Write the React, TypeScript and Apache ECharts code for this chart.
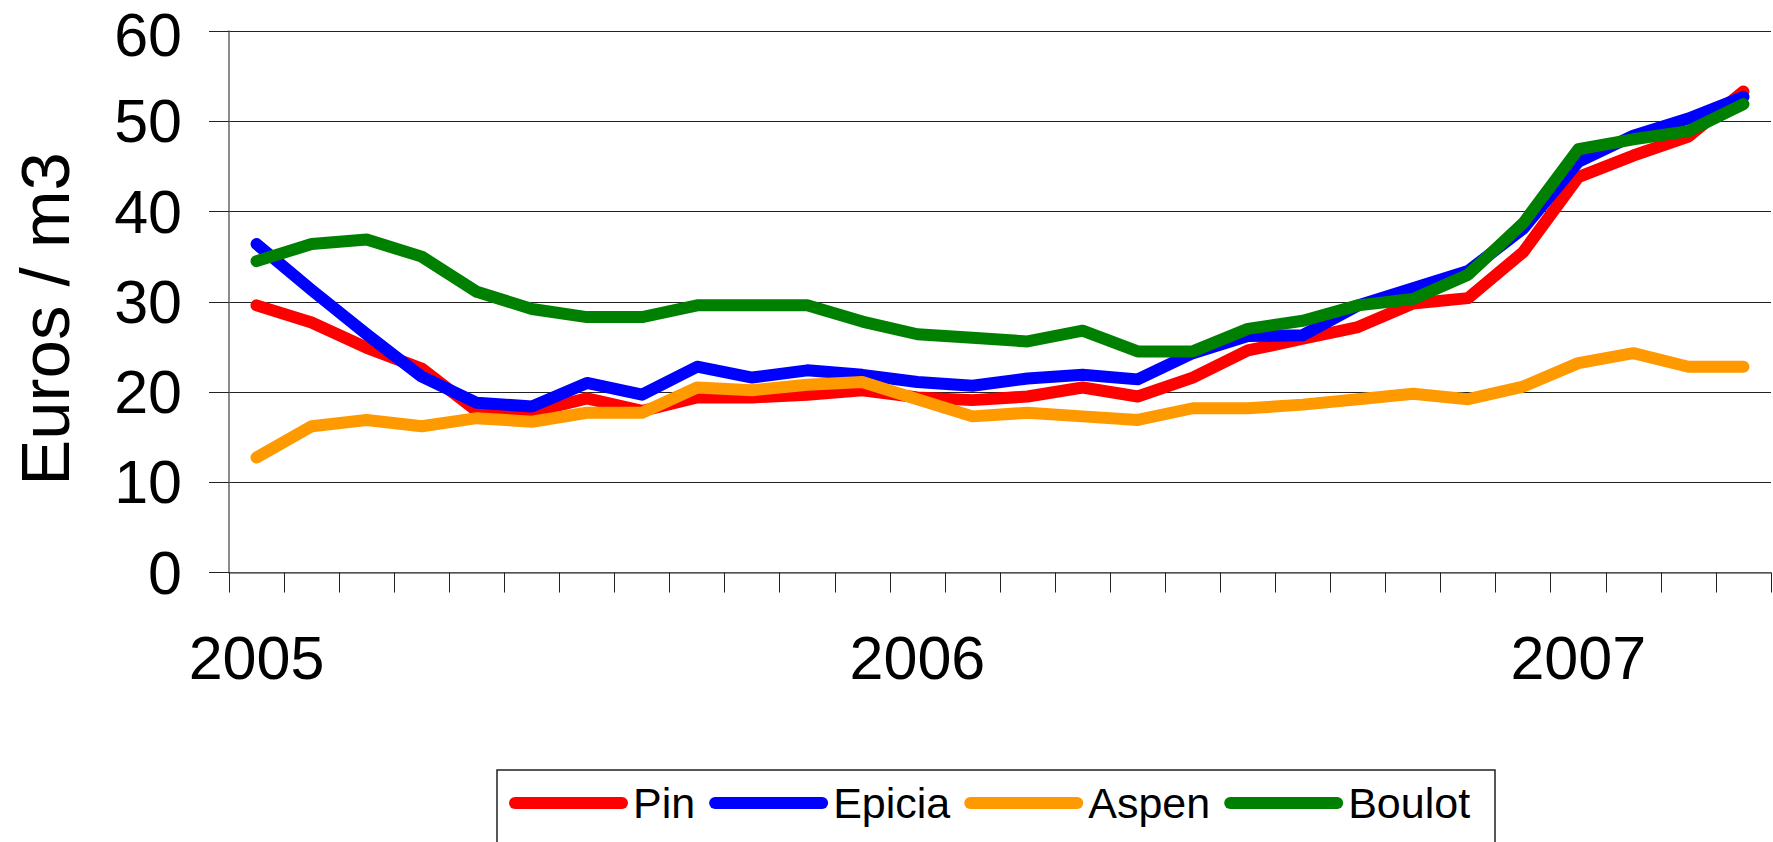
import React, { useEffect, useRef } from 'react';
import * as echarts from 'echarts';

const months = [
  '2005-01', '2005-02', '2005-03', '2005-04', '2005-05', '2005-06', '2005-07', '2005-08', '2005-09', '2005-10', '2005-11', '2005-12',
  '2006-01', '2006-02', '2006-03', '2006-04', '2006-05', '2006-06', '2006-07', '2006-08', '2006-09', '2006-10', '2006-11', '2006-12',
  '2007-01', '2007-02', '2007-03', '2007-04',
];

const yearLabels: Record<string, string> = { '2005-01': '2005', '2006-01': '2006', '2007-01': '2007' };

const pin = [29.6, 27.7, 24.9, 22.6, 17.9, 17.8, 19.3, 17.9, 19.4, 19.4, 19.7, 20.2, 19.4, 19.1, 19.5, 20.5, 19.5, 21.6, 24.6, 25.9, 27.2, 29.8, 30.4, 35.5, 43.8, 46.2, 48.3, 53.3];
const epicia = [36.4, 31.3, 26.4, 21.7, 18.8, 18.4, 21.0, 19.7, 22.8, 21.6, 22.4, 21.9, 21.1, 20.7, 21.5, 21.9, 21.4, 24.3, 26.2, 26.3, 29.6, 31.5, 33.4, 38.1, 45.5, 48.4, 50.3, 52.7];
const aspen = [12.75, 16.2, 16.9, 16.2, 17.1, 16.7, 17.7, 17.7, 20.5, 20.2, 20.8, 21.1, 19.2, 17.3, 17.7, 17.3, 16.9, 18.2, 18.2, 18.6, 19.2, 19.8, 19.2, 20.6, 23.2, 24.3, 22.8, 22.8];
const boulot = [34.5, 36.4, 36.9, 35.0, 31.1, 29.2, 28.3, 28.3, 29.6, 29.6, 29.6, 27.8, 26.4, 26.0, 25.6, 26.8, 24.5, 24.5, 27.0, 27.9, 29.6, 30.3, 33.0, 38.7, 46.9, 48.0, 48.9, 51.9];

const seriesNames = ['Pin', 'Epicia', 'Aspen', 'Boulot'];
const seriesColors = ['#FF0000', '#0000FF', '#FF9900', '#008000'];
const seriesData = [pin, epicia, aspen, boulot];

const yTitle = 'Euros / m3';
const FONT = "'Liberation Sans', Arial, sans-serif";

export default function App() {
  const ref = useRef<HTMLDivElement>(null);

  useEffect(() => {
    if (!ref.current) return;
    const chart = echarts.init(ref.current, undefined, { renderer: 'svg' });
    chart.setOption({
      animation: false,
      backgroundColor: '#ffffff',
      grid: { left: 229, right: 2, top: 31, bottom: 269.5, containLabel: false, outerBoundsMode: 'none' },
      xAxis: {
        type: 'category',
        data: months,
        boundaryGap: true,
        axisLine: { show: true, lineStyle: { color: '#666', width: 1.5 } },
        axisTick: { show: true, interval: 0, length: 20, lineStyle: { color: '#222', width: 1 } },
        axisLabel: {
          interval: (i: number) => i % 12 === 0,
          formatter: (v: string) => yearLabels[v] ?? '',
          fontSize: 61,
          fontFamily: FONT,
          color: '#000',
          margin: 55,
        },
        splitLine: { show: false },
      },
      yAxis: {
        type: 'value',
        min: 0,
        max: 60,
        interval: 10,
        axisLine: { show: true, lineStyle: { color: '#666', width: 1.5 } },
        axisTick: { show: true, length: 20, lineStyle: { color: '#222', width: 1 } },
        splitLine: { show: true, lineStyle: { color: '#222', width: 1 } },
        axisLabel: {
          fontSize: 61,
          fontFamily: FONT,
          color: '#000',
          margin: 47,
          formatter: (v: number) => (v === 60 ? '{top|' + v + '}' : String(v)),
          rich: {
            top: { fontSize: 61, fontFamily: FONT, color: '#000', padding: [8, 0, 0, 0] },
          },
        },
      },
      legend: {
        left: 509,
        top: 773,
        orient: 'horizontal',
        padding: 0,
        itemWidth: 119,
        itemHeight: 12,
        itemGap: 14,
        selectedMode: false,
        icon: 'path://M6,0L113,0A6,6,0,0,1,113,12L6,12A6,6,0,0,1,6,0Z',
        itemStyle: { borderWidth: 0 },
        textStyle: { fontSize: 43, fontFamily: FONT, color: '#000', lineHeight: 50, padding: [10, 0, 0, 0] },
        data: seriesNames,
      },
      graphic: [
        {
          type: 'text',
          x: 45,
          y: 319,
          rotation: Math.PI / 2,
          style: {
            text: yTitle,
            fontSize: 69,
            fontFamily: FONT,
            fill: '#000',
            align: 'center',
            verticalAlign: 'middle',
          },
        },
        {
          type: 'rect',
          shape: { x: 497, y: 770, width: 998, height: 120 },
          style: { fill: 'none', stroke: '#222', lineWidth: 1.5 },
          z: -1,
        },
      ],
      series: seriesNames.map((name, i) => ({
        name,
        type: 'line',
        data: seriesData[i],
        symbol: 'none',
        color: seriesColors[i],
        lineStyle: { width: 12, color: seriesColors[i], cap: 'round', join: 'round' },
        emphasis: { disabled: true },
      })),
    });
    return () => chart.dispose();
  }, []);

  return <div ref={ref} style={{ position: 'absolute', left: 0, top: 0, width: 1773, height: 842 }} />;
}
